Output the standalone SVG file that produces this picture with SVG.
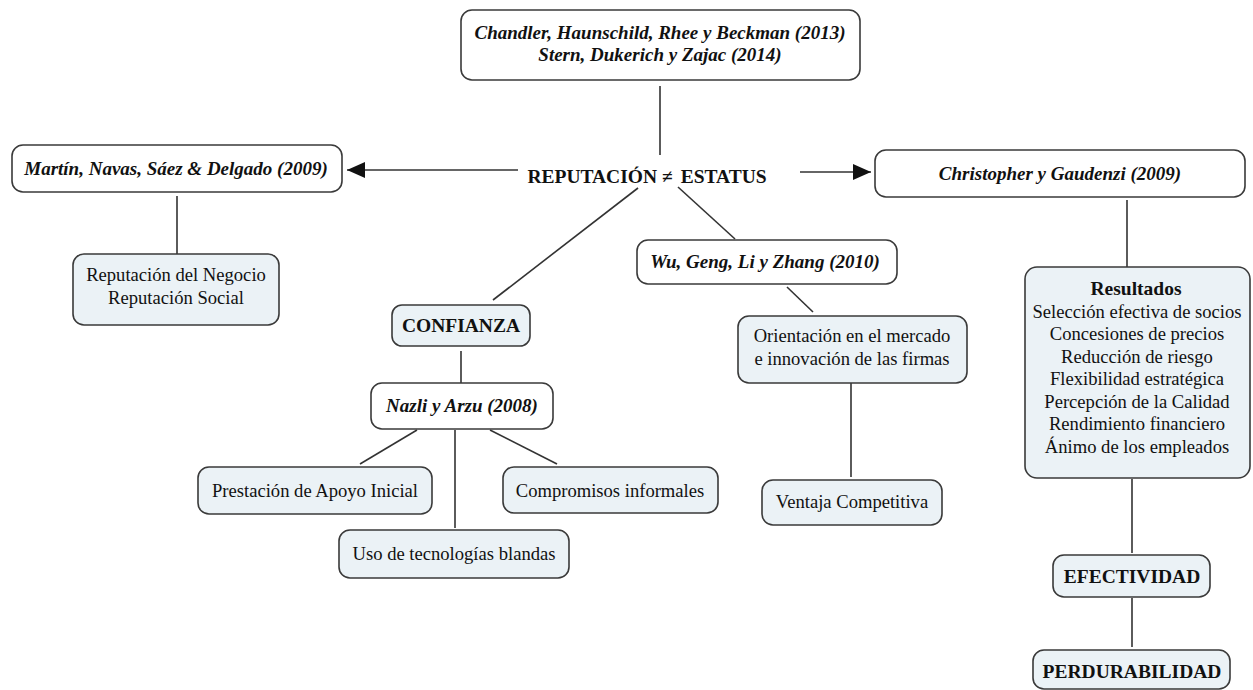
<svg xmlns="http://www.w3.org/2000/svg" width="1253" height="690" viewBox="0 0 1253 690">
<defs>
<style>
.ref{fill:#ffffff;stroke:#3a3a3a;stroke-width:1.6}
.con{fill:#ebf2f6;stroke:#3a3a3a;stroke-width:1.6}
.ti{font-family:"Liberation Serif","Times New Roman",serif;font-weight:bold;font-style:italic;font-size:19px;fill:#111;text-anchor:middle}
.tb{font-family:"Liberation Serif","Times New Roman",serif;font-weight:bold;font-size:19.5px;fill:#111;text-anchor:middle}
.tr{font-family:"Liberation Serif","Times New Roman",serif;font-size:18.6px;fill:#111;text-anchor:middle}
.ln{stroke:#333;stroke-width:1.6;fill:none}
</style>
<marker id="ahL" markerWidth="18" markerHeight="18" viewBox="0 0 18 18" refX="18" refY="9" orient="auto" markerUnits="userSpaceOnUse">
<path d="M0,1 L18,9 L0,17 z" fill="#111"/>
</marker>
</defs>
<rect width="1253" height="690" fill="#ffffff"/>
<g id="connectors">
<line class="ln" x1="660" y1="86" x2="660" y2="155"/>
<line class="ln" x1="518" y1="170" x2="347" y2="170" marker-end="url(#ahL)"/>
<line class="ln" x1="800" y1="172" x2="871" y2="172" marker-end="url(#ahL)"/>
<line class="ln" x1="177" y1="196" x2="177" y2="254"/>
<line class="ln" x1="638" y1="188" x2="493" y2="300"/>
<line class="ln" x1="678" y1="187" x2="735" y2="239"/>
<line class="ln" x1="787" y1="287" x2="813" y2="312"/>
<line class="ln" x1="851" y1="383" x2="851" y2="477"/>
<line class="ln" x1="461" y1="351" x2="461" y2="383"/>
<line class="ln" x1="417" y1="430" x2="360" y2="464"/>
<line class="ln" x1="455" y1="430" x2="455" y2="528"/>
<line class="ln" x1="490" y1="430" x2="557" y2="464"/>
<line class="ln" x1="1127" y1="200" x2="1127" y2="267"/>
<line class="ln" x1="1132" y1="479" x2="1132" y2="553"/>
<line class="ln" x1="1132" y1="598" x2="1132" y2="647"/>
</g>
<g id="n-top">
<rect class="ref" x="461" y="10" width="399" height="70" rx="11"/>
<text class="ti" x="660" y="39">Chandler, Haunschild, Rhee y Beckman (2013)</text>
<text class="ti" x="660" y="61">Stern, Dukerich y Zajac (2014)</text>
</g>
<g id="n-center">
<text class="tb" x="647" y="183">REPUTACIÓN ≠<tspan dx="8">ESTATUS</tspan></text>
</g>
<g id="n-martin">
<rect class="ref" x="12" y="145" width="330" height="47" rx="11"/>
<text class="ti" x="176" y="175">Martín, Navas, Sáez &amp; Delgado (2009)</text>
</g>
<g id="n-reputacion">
<rect class="con" x="73" y="254" width="206" height="71" rx="11"/>
<text class="tr" x="176" y="281">Reputación del Negocio</text>
<text class="tr" x="176" y="304">Reputación Social</text>
</g>
<g id="n-christopher">
<rect class="ref" x="875" y="150" width="370" height="47" rx="11"/>
<text class="ti" x="1060" y="180">Christopher y Gaudenzi (2009)</text>
</g>
<g id="n-resultados">
<rect class="con" x="1025" y="267" width="225" height="211" rx="12"/>
<text class="tb" x="1136" y="295">Resultados</text>
<text class="tr" x="1137" y="318">Selección efectiva de socios</text>
<text class="tr" x="1137" y="340">Concesiones de precios</text>
<text class="tr" x="1137" y="363">Reducción de riesgo</text>
<text class="tr" x="1137" y="385">Flexibilidad estratégica</text>
<text class="tr" x="1137" y="408">Percepción de la Calidad</text>
<text class="tr" x="1137" y="430">Rendimiento financiero</text>
<text class="tr" x="1137" y="453">Ánimo de los empleados</text>
</g>
<g id="n-efectividad">
<rect class="con" x="1053" y="555" width="157" height="42" rx="11"/>
<text class="tb" x="1132" y="583">EFECTIVIDAD</text>
</g>
<g id="n-perdurabilidad">
<rect class="con" x="1033" y="650" width="197" height="39" rx="11"/>
<text class="tb" x="1132" y="678">PERDURABILIDAD</text>
</g>
<g id="n-confianza">
<rect class="con" x="392" y="305" width="138" height="41" rx="10"/>
<text class="tb" x="461" y="332">CONFIANZA</text>
</g>
<g id="n-nazli">
<rect class="ref" x="371" y="383" width="182" height="46" rx="11"/>
<text class="ti" x="462" y="412">Nazli y Arzu (2008)</text>
</g>
<g id="n-prestacion">
<rect class="con" x="198" y="467" width="234" height="47" rx="11"/>
<text class="tr" x="315" y="497">Prestación de Apoyo Inicial</text>
</g>
<g id="n-uso">
<rect class="con" x="339" y="530" width="230" height="48" rx="11"/>
<text class="tr" x="454" y="560">Uso de tecnologías blandas</text>
</g>
<g id="n-compromisos">
<rect class="con" x="503" y="467" width="215" height="46" rx="11"/>
<text class="tr" x="610" y="497">Compromisos informales</text>
</g>
<g id="n-wu">
<rect class="ref" x="637" y="240" width="260" height="44" rx="11"/>
<text class="ti" x="765" y="268">Wu, Geng, Li y Zhang (2010)</text>
</g>
<g id="n-orientacion">
<rect class="con" x="738" y="316" width="229" height="67" rx="11"/>
<text class="tr" x="852" y="342">Orientación en el mercado</text>
<text class="tr" x="852" y="365">e innovación de las firmas</text>
</g>
<g id="n-ventaja">
<rect class="con" x="762" y="480" width="180" height="45" rx="11"/>
<text class="tr" x="852" y="508">Ventaja Competitiva</text>
</g>
</svg>
